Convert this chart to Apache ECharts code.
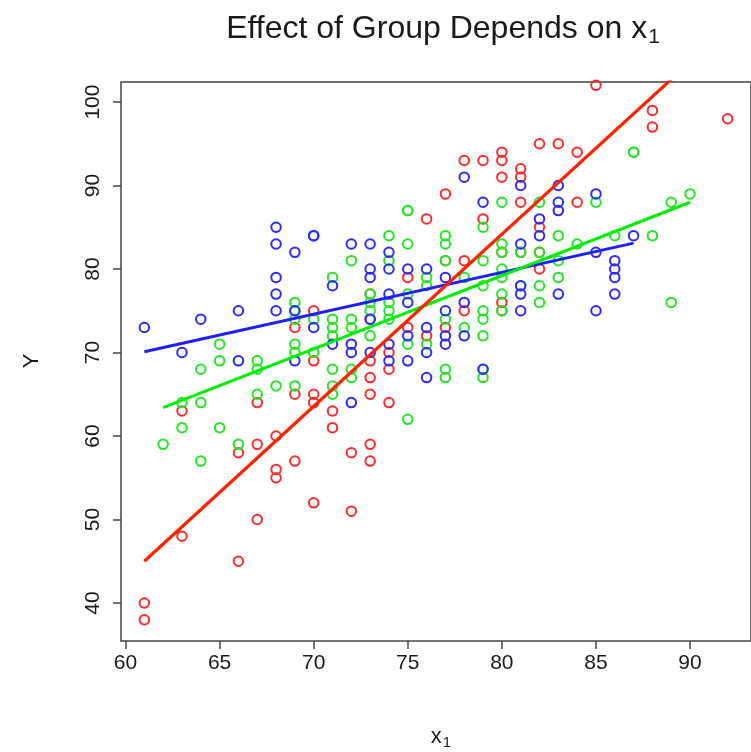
<!DOCTYPE html>
<html><head><meta charset="utf-8">
<script src="https://cdn.jsdelivr.net/npm/echarts@6/dist/echarts.min.js"></script>
<style>html,body{margin:0;padding:0;background:#fff}#c{width:751px;height:752px}</style>
</head><body><div id="c"></div>
<script>
const redPoints = [[61,40],[61,38],[63,48],[63,63],[66,45],[66,58],[67,50],[67,59],[67,64],[68,56],[68,55],[68,60],[69,57],[69,65],[69,73],[70,52],[70,65],[70,64],[70,75],[70,69],[71,63],[71,61],[72,58],[72,51],[73,57],[73,59],[73,65],[73,67],[73,69],[73,74],[73,77],[74,64],[74,68],[74,70],[75,73],[75,79],[76,72],[76,86],[77,73],[77,81],[77,89],[78,81],[78,75],[78,93],[79,86],[79,93],[80,75],[80,76],[80,82],[80,91],[80,93],[80,94],[81,82],[81,88],[81,91],[81,92],[82,80],[82,82],[82,85],[82,95],[83,95],[84,88],[84,94],[85,102],[88,97],[88,99],[92,98]];
const bluePoints = [[61,73],[63,70],[64,74],[66,75],[66,69],[68,85],[68,83],[68,79],[68,77],[68,75],[69,82],[69,75],[69,69],[70,84],[70,84],[70,73],[71,78],[71,71],[72,83],[72,71],[72,70],[72,64],[73,83],[73,80],[73,79],[73,74],[73,70],[74,82],[74,80],[74,77],[74,71],[74,69],[75,80],[75,76],[75,72],[75,69],[76,80],[76,73],[76,70],[76,67],[77,79],[77,75],[77,72],[77,71],[78,91],[78,76],[78,72],[79,88],[79,68],[81,90],[81,83],[81,78],[81,77],[81,75],[82,86],[82,84],[83,90],[83,88],[83,87],[83,77],[85,89],[85,82],[85,75],[86,81],[86,80],[86,79],[86,77],[87,84]];
const greenPoints = [[62,59],[63,64],[63,61],[64,68],[64,64],[64,57],[65,71],[65,69],[65,61],[66,59],[67,69],[67,68],[67,65],[68,66],[69,76],[69,75],[69,74],[69,71],[69,70],[69,66],[70,74],[70,70],[71,79],[71,74],[71,73],[71,72],[71,68],[71,66],[71,65],[72,81],[72,74],[72,73],[72,68],[72,67],[73,77],[73,76],[73,75],[73,72],[74,84],[74,81],[74,76],[74,75],[74,74],[75,87],[75,87],[75,83],[75,77],[75,71],[75,62],[76,79],[76,78],[76,71],[77,84],[77,83],[77,81],[77,74],[77,68],[77,67],[78,79],[78,73],[79,85],[79,81],[79,78],[79,75],[79,74],[79,72],[79,68],[79,67],[80,88],[80,83],[80,82],[80,80],[80,79],[80,77],[80,75],[81,82],[81,78],[82,88],[82,82],[82,78],[82,76],[83,84],[83,81],[83,79],[84,83],[85,88],[86,84],[87,94],[87,94],[88,84],[89,88],[89,76],[90,89]];
const redLine = [[61,45.0],[92,108.9]];
const greenLine = [[62,63.4],[90,88.0]];
const blueLine = [[61,70.1],[87,83.1]];
const xTicks = [60,65,70,75,80,85,90];
const yTicks = [40,50,60,70,80,90,100];
const titleText = 'Effect of Group Depends on x';

const FONT = '"Liberation Sans", Arial, sans-serif';
const chart = echarts.init(document.getElementById('c'), null, {renderer:'canvas'});
function pts(data, color){
  return {type:'scatter', data:data, symbol:'circle', symbolSize:9.5,
    itemStyle:{color:'rgba(0,0,0,0)', borderColor:color, borderWidth:2, opacity:1}, silent:true, z:2};
}
function ln(data, color, w){
  return {type:'line', data:data, showSymbol:false, symbol:'none', clip:true,
    lineStyle:{color:color, width:w}, silent:true, z:3};
}
chart.setOption({
  animation:false,
  backgroundColor:'#fff',
  grid:{left:121, top:82, width:641, height:559, show:true, borderColor:'#444', borderWidth:1.5, backgroundColor:'transparent'},
  xAxis:{type:'value', min:59.76, max:93.24,
    axisLine:{show:false}, splitLine:{show:false},
    axisTick:{show:true, customValues:xTicks, length:8, lineStyle:{color:'#444', width:1.5}},
    axisLabel:{customValues:xTicks, margin:12, color:'#1a1a1a', fontSize:21, fontFamily:FONT}},
  yAxis:{type:'value', min:35.45, max:102.4,
    axisLine:{show:false}, splitLine:{show:false},
    axisTick:{show:true, customValues:yTicks, length:8, lineStyle:{color:'#444', width:1.5}},
    axisLabel:{customValues:yTicks, rotate:90, margin:17, color:'#1a1a1a', fontSize:21, fontFamily:FONT}},
  graphic:[
    {type:'text', x:443, y:29, style:{text:titleText+'{s|1}', fill:'#1a1a1a', font:'32px '+FONT, align:'center', verticalAlign:'middle',
      rich:{s:{fontSize:21, fontFamily:FONT, fill:'#1a1a1a', padding:[16,0,0,1]}}}},
    {type:'text', x:441, y:737, style:{text:'x{s|1}', fill:'#1a1a1a', font:'22px '+FONT, align:'center', verticalAlign:'middle',
      rich:{s:{fontSize:15, fontFamily:FONT, fill:'#1a1a1a', padding:[11,0,0,1]}}}},
    {type:'text', x:32, y:361, rotation:Math.PI/2, style:{text:'Y', fill:'#1a1a1a', font:'22px '+FONT, align:'center', verticalAlign:'middle'}}
  ],
  series:[
    pts(redPoints,'#ff2a2a'),
    pts(greenPoints,'#22e822'),
    pts(bluePoints,'#2a2aff'),
    ln(blueLine,'#1e1eff',3),
    ln(greenLine,'#00ee00',3),
    ln(redLine,'#ff2200',3.2)
  ]
});
</script></body></html>
